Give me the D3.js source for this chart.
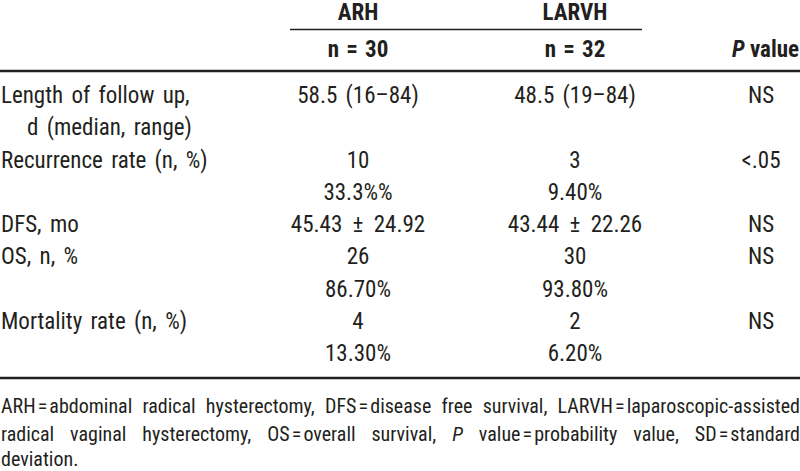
<!DOCTYPE html>
<html><head><meta charset="utf-8">
<script src="https://cdn.jsdelivr.net/npm/d3@7"></script>
<style>
html,body{margin:0;padding:0;background:#fff;}
svg{display:block;}
text{font-family:"Liberation Sans Narrow","Arial Narrow","Roboto Condensed","Liberation Sans",sans-serif;fill:#231f20;}
</style></head>
<body>
<svg id="c" width="800" height="471"></svg>
<script>
const groups = ["ARH", "LARVH"];
const groupN = ["n = 30", "n = 32"];
const rowLabels = ["Length of follow up,", "d (median, range)", "Recurrence rate (n, %)", "", "DFS, mo", "OS, n, %", "", "Mortality rate (n, %)", ""];
const rowIndent = [0, 1, 0, 0, 0, 0, 0, 0, 0];
const arhValues = ["58.5 (16\u201384)", "", "10", "33.3%%", "45.43\u2002\u00b1\u200224.92", "26", "86.70%", "4", "13.30%"];
const larvhValues = ["48.5 (19\u201384)", "", "3", "9.40%", "43.44\u2002\u00b1\u200222.26", "30", "93.80%", "2", "6.20%"];
const pValues = ["NS", "", "<.05", "", "NS", "NS", "", "NS", ""];
const footLines = [
  ["ARH\u200a=\u200aabdominal", "radical", "hysterectomy,", "DFS\u200a=\u200adisease", "free", "survival,", "LARVH\u200a=\u200alaparoscopic-assisted"],
  ["radical", "vaginal", "hysterectomy,", "OS\u200a=\u200aoverall", "survival,", "*P", "value\u200a=\u200aprobability", "value,", "SD\u200a=\u200astandard"],
  ["deviation."]
];

const W = 800, H = 471;
const svg = d3.select("#c");
const ink = "#231f20";

const cols = ["label", "ARH", "LARVH", "P"];
const colX = d3.scaleOrdinal().domain(cols).range([1, 358, 575, 761]);
const y = d3.scaleLinear().domain([0, rowLabels.length - 1]).range([103, 361]);

// header
svg.selectAll("text.grp").data(groups).join("text")
  .attr("class", "grp")
  .attr("x", (d) => colX(d)).attr("y", 20)
  .attr("text-anchor", "middle").attr("font-weight", "bold").attr("font-size", 23)
  .text(d => d);
svg.selectAll("text.gn").data(groupN).join("text")
  .attr("class", "gn")
  .attr("x", (d, i) => colX(groups[i])).attr("y", 57)
  .attr("text-anchor", "middle").attr("font-weight", "bold").attr("font-size", 23)
  .attr("word-spacing", 2)
  .text(d => d);
const pv = svg.append("text").attr("x", 799).attr("y", 57)
  .attr("text-anchor", "end").attr("font-weight", "bold").attr("font-size", 23);
pv.append("tspan").attr("font-style", "italic").text("P");
pv.append("tspan").text(" value");

// rules
svg.append("line").attr("x1", 290).attr("x2", 642).attr("y1", 29.5).attr("y2", 29.5)
  .attr("stroke", ink).attr("stroke-width", 1.6);
svg.append("line").attr("x1", 0).attr("x2", W).attr("y1", 71).attr("y2", 71)
  .attr("stroke", ink).attr("stroke-width", 2.6);
svg.append("line").attr("x1", 0).attr("x2", W).attr("y1", 378).attr("y2", 378)
  .attr("stroke", ink).attr("stroke-width", 2.6);

// body
const body = svg.append("g").attr("font-size", 23).attr("word-spacing", 3);
body.selectAll("text.lab").data(rowLabels).join("text")
  .attr("class", "lab")
  .attr("x", (d, i) => colX("label") + rowIndent[i] * 26)
  .attr("y", (d, i) => y(i))
  .text(d => d);
body.selectAll("text.arh").data(arhValues).join("text")
  .attr("class", "arh").attr("text-anchor", "middle")
  .attr("x", colX("ARH")).attr("y", (d, i) => y(i)).text(d => d);
body.selectAll("text.larvh").data(larvhValues).join("text")
  .attr("class", "larvh").attr("text-anchor", "middle")
  .attr("x", colX("LARVH")).attr("y", (d, i) => y(i)).text(d => d);
body.selectAll("text.pv").data(pValues).join("text")
  .attr("class", "pv").attr("text-anchor", "middle")
  .attr("x", colX("P")).attr("y", (d, i) => y(i)).text(d => d);

// footnote (justified)
const footY = [413, 441, 466];
footLines.forEach((words, li) => {
  const g = svg.append("g").attr("font-size", 20);
  const nodes = words.map(w => {
    const italic = w.startsWith("*");
    return g.append("text").attr("y", footY[li])
      .attr("font-style", italic ? "italic" : null)
      .text(italic ? w.slice(1) : w);
  });
  const widths = nodes.map(n => n.node().getComputedTextLength());
  const total = d3.sum(widths);
  const justify = li < footLines.length - 1;
  const gap = justify && words.length > 1 ? (W - 1 - total) / (words.length - 1) : 6;
  let x = 1;
  nodes.forEach((n, i) => { n.attr("x", x); x += widths[i] + gap; });
});
</script>
</body></html>
